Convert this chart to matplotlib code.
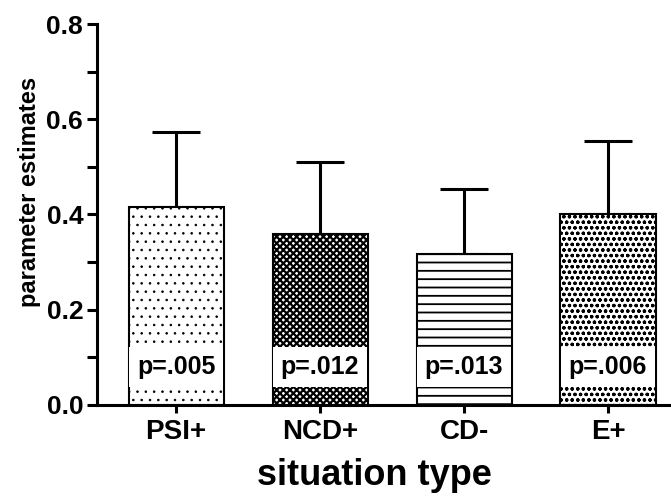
import numpy as np
import matplotlib.pyplot as plt
from matplotlib.ticker import MultipleLocator

# values
situations = ["PSI+", "NCD+", "CD-", "E+"]
estimates = [0.416, 0.359, 0.316, 0.400]
errors = [0.157, 0.152, 0.137, 0.155]
p_labels = ["p=.005", "p=.012", "p=.013", "p=.006"]
hatches = ["..", "xxxxx", "--", "ooo"]
hatch_widths = [0.6, 1.6, 1.3, 0.9]

plt.rcParams["font.family"] = ["Liberation Sans", "DejaVu Sans"]
plt.rcParams["font.weight"] = "bold"

fig = plt.figure(figsize=(6.71, 4.96), dpi=100)
ax = fig.add_axes([0.1446, 0.1835, 0.8554, 0.7681])

x = np.arange(len(situations))
for xi, val, h, hw in zip(x, estimates, hatches, hatch_widths):
    with plt.rc_context({"hatch.linewidth": hw}):
        ax.bar(xi, val, width=0.66, color="white", edgecolor="black",
               linewidth=1.5, hatch=h, zorder=2)
ax.errorbar(x, estimates, yerr=[np.zeros(len(errors)), errors], fmt="none",
            ecolor="black", elinewidth=2.2, capsize=17, capthick=2.2, zorder=1)

# p-value boxes inside the bars
for xi, lab in zip(x, p_labels):
    ax.text(xi, 0.08, lab, ha="center", va="center", fontsize=18,
            fontweight="bold", zorder=3,
            bbox=dict(boxstyle="square,pad=0.32", facecolor="white",
                      edgecolor="none"))

ax.set_xlim(-0.549, 3.4375)
ax.set_ylim(0, 0.8)
ax.yaxis.set_minor_locator(MultipleLocator(0.1))
ax.set_yticks([0.0, 0.2, 0.4, 0.6, 0.8])
ax.set_yticklabels(["0.0", "0.2", "0.4", "0.6", "0.8"])
ax.set_xticks(x)
ax.set_xticklabels(situations)

for side in ["top", "right"]:
    ax.spines[side].set_visible(False)
for side in ["left", "bottom"]:
    ax.spines[side].set_linewidth(2.2)

ax.tick_params(axis="y", which="major", length=7, width=2.2, labelsize=19, pad=3)
ax.tick_params(axis="y", which="minor", length=7, width=2.2)
ax.tick_params(axis="x", length=6, width=2.2, labelsize=20, pad=4)

ax.set_xlabel("situation type", fontsize=26, fontweight="bold")
ax.xaxis.set_label_coords(0.484, -0.14)
ax.set_ylabel("parameter estimates", fontsize=17, fontweight="bold")
ax.yaxis.set_label_coords(-0.098, 0.56)

fig.savefig("out.png", dpi=100)
plt.close()
